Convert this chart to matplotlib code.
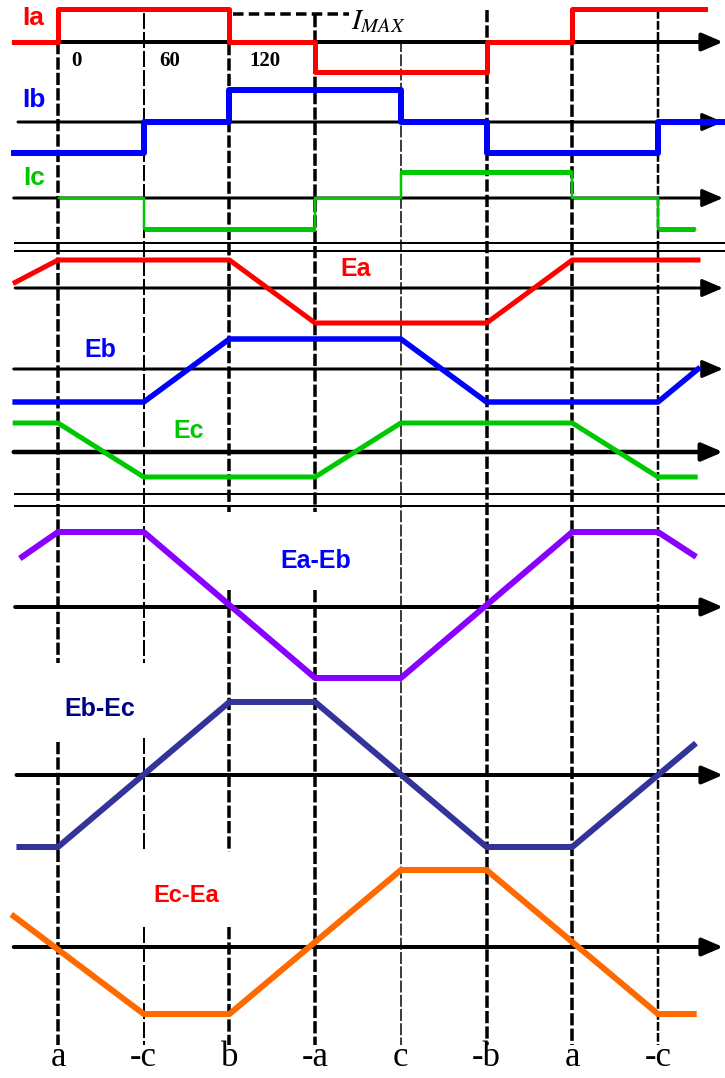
import matplotlib.pyplot as plt

plt.rcParams['mathtext.fontset'] = 'stix'

# commutation instants (electrical degrees) and their names
line_deg = [0, 60, 120, 180, 240, 300, 360, 420]
line_names = ['a', '-c', 'b', '-a', 'c', '-b', 'a', '-c']
angle_ticks = ['0', '60', '120']

# phase currents, per unit of I_MAX, held from each angle to the next
ia_deg = [-31, 0, 120, 180, 300, 360, 453]
ia_val = [0, 1, 0, -1, 0, 1, 1]
ib_deg = [-31, 60, 120, 240, 300, 420, 467]
ib_val = [-1, 0, 1, 0, -1, 0, 0]
ic_deg = [1, 60, 180, 240, 360, 420, 446]
ic_val = [0, -1, 0, 1, 0, -1, -1]

# trapezoidal back-EMFs, corner points
ea_deg = [-30, 0, 120, 180, 300, 360, 448]
ea_val = [0.2, 1, 1, -1, -1, 1, 1]
eb_deg = [-30, 60, 120, 240, 300, 420, 448]
eb_val = [-1, -1, 1, 1, -1, -1, 0]
ec_deg = [-30, 0, 60, 180, 240, 360, 420, 446]
ec_val = [1, 1, -1, -1, 1, 1, -1, -1]

# line-to-line EMFs
eab_deg = [-25, 0, 60, 180, 240, 360, 420, 445]
eab_val = [0.67, 1, 1, -1, -1, 1, 1, 0.69]
ebc_deg = [-27, 0, 120, 180, 300, 360, 445]
ebc_val = [-1, -1, 1, 1, -1, -1, 0.41]
eca_deg = [-31, 60, 120, 240, 300, 420, 445]
eca_val = [0.4, -1, -1, 1, 1, -1, -1]

# each strip: zero line (px from top), height of +1 and of -1 (px)
strips = {
    'Ia': (42, 33, 30), 'Ib': (122, 32, 31), 'Ic': (198, 26, 31),
    'Ea': (288, 28, 35), 'Eb': (369, 30, 33), 'Ec': (452, 29, 25),
    'Ea-Eb': (607, 75, 71), 'Eb-Ec': (775, 73, 72), 'Ec-Ea': (947, 77, 67),
}

RED = '#ff0000'
BLUE = '#0000ff'
GREEN = '#00c800'
PURPLE = '#8800ff'
NAVY = '#333399'
ORANGE = '#ff6a00'


def to_y(name, values):
    base, up, down = strips[name]
    return [base - v * up if v > 0 else base - v * down for v in values]


def px(w):
    # pixel width -> points at 100 dpi
    return w * 0.72


fig = plt.figure(figsize=(7.25, 10.78), dpi=100)
ax = fig.add_axes([0, 0, 1, 1])
ax.set_xlim(-40.6, 466.9)
ax.set_ylim(1078, 0)
ax.axis('off')

# horizontal zero axes with arrow heads
axis_spans = {
    'Ia': (-31, 4.0), 'Ib': (-28, 3.0), 'Ic': (-31, 3.0),
    'Ea': (-30, 3.0), 'Eb': (-31, 3.0), 'Ec': (-31, 4.5),
    'Ea-Eb': (-30, 4.0), 'Eb-Ec': (-29, 4.0), 'Ec-Ea': (-31, 4.0),
}
for name, (x0, w) in axis_spans.items():
    y0 = strips[name][0]
    ax.annotate('', xy=(465.5, y0), xytext=(x0, y0),
                arrowprops=dict(arrowstyle='-|>,head_length=0.7,head_width=0.3',
                                lw=px(w), color='black', mutation_scale=18,
                                shrinkA=0, shrinkB=0), zorder=2)

# double separators between the three groups
for y0 in [243, 251, 494, 506]:
    ax.hlines(y0, -31, 467, color='black', lw=px(2), zorder=2)

# dashed commutation lines, broken where labels sit
line_tops = [42, 13, 43, 15, 40, 10, 43, 10]
line_widths = [3.5, 2.0, 3.5, 3.5, 1.5, 3.5, 3.5, 2.5]
line_gaps = [[(663, 742)], [(663, 738), (850, 927)], [(512, 590), (852, 927)],
             [(512, 590)], [], [], [], []]
for deg, top, w, gaps in zip(line_deg, line_tops, line_widths, line_gaps):
    y_start = top
    dash = (0, (3.5, 0.9)) if w > 2 else (0, (8, 1.5))
    for g0, g1 in gaps + [(1045, 1045)]:
        ax.vlines(deg, y_start, g0, color='black', lw=px(w),
                  linestyles=dash, zorder=1)
        y_start = g1

# phase currents
ax.step(ia_deg, to_y('Ia', ia_val), where='post', color=RED, lw=px(5), zorder=4)
ax.step(ib_deg, to_y('Ib', ib_val), where='post', color=BLUE, lw=px(6), zorder=4)
ax.step(ic_deg, to_y('Ic', ic_val), where='post', color=GREEN, lw=px(2.5), zorder=4)
for i in range(len(ic_val) - 1):
    if ic_val[i] != 0:
        ax.hlines(to_y('Ic', [ic_val[i]])[0], ic_deg[i], ic_deg[i + 1],
                  color=GREEN, lw=px(5), zorder=4)

# I_MAX reference level
ax.plot([122.5, 204], [14, 14], color='black', lw=px(3.5), dashes=(3.0, 1.5), zorder=3)
ax.text(205, 21, r'$I_{MAX}$', fontsize=21, va='center', ha='left', color='black')

# back-EMFs
ax.plot(ea_deg, to_y('Ea', ea_val), color=RED, lw=px(5), zorder=4)
ax.plot(eb_deg, to_y('Eb', eb_val), color=BLUE, lw=px(5.5), zorder=4)
ax.plot(ec_deg, to_y('Ec', ec_val), color=GREEN, lw=px(5), zorder=4)

# line-to-line EMFs
ax.plot(eab_deg, to_y('Ea-Eb', eab_val), color=PURPLE, lw=px(6), zorder=4)
ax.plot(ebc_deg, to_y('Eb-Ec', ebc_val), color=NAVY, lw=px(6), zorder=4)
ax.plot(eca_deg, to_y('Ec-Ea', eca_val), color=ORANGE, lw=px(6), zorder=4)

# trace names
sans = ['Liberation Sans', 'DejaVu Sans']
names = [('Ia', -17.5, 18, RED, 19), ('Ib', -16.8, 100, BLUE, 19),
         ('Ic', -16.8, 178, GREEN, 19),
         ('Ea', 208, 269, RED, 18), ('Eb', 29.4, 350, BLUE, 18),
         ('Ec', 91.7, 431, GREEN, 18),
         ('Ea-Eb', 180.6, 561, BLUE, 18), ('Eb-Ec', 29.4, 709, '#000080', 18),
         ('Ec-Ea', 89.6, 896, RED, 17)]
for txt, x, y, c, fs in names:
    ax.text(x, y, txt, color=c, fontsize=fs, fontweight='bold', family=sans,
            ha='center', va='center', zorder=5)

# angle marks under Ia
for txt, x in zip(angle_ticks, [12.6, 78.4, 144.9]):
    ax.text(x, 61, txt, fontsize=15, fontweight='bold', family='Liberation Serif',
            ha='center', va='center', zorder=5)

# sector names along the bottom
for deg, txt in zip(line_deg, line_names):
    ax.text(deg, 1058, txt, fontsize=25, family='Liberation Serif',
            ha='center', va='center', zorder=5)

fig.savefig('out.png', dpi=100, facecolor='white')
